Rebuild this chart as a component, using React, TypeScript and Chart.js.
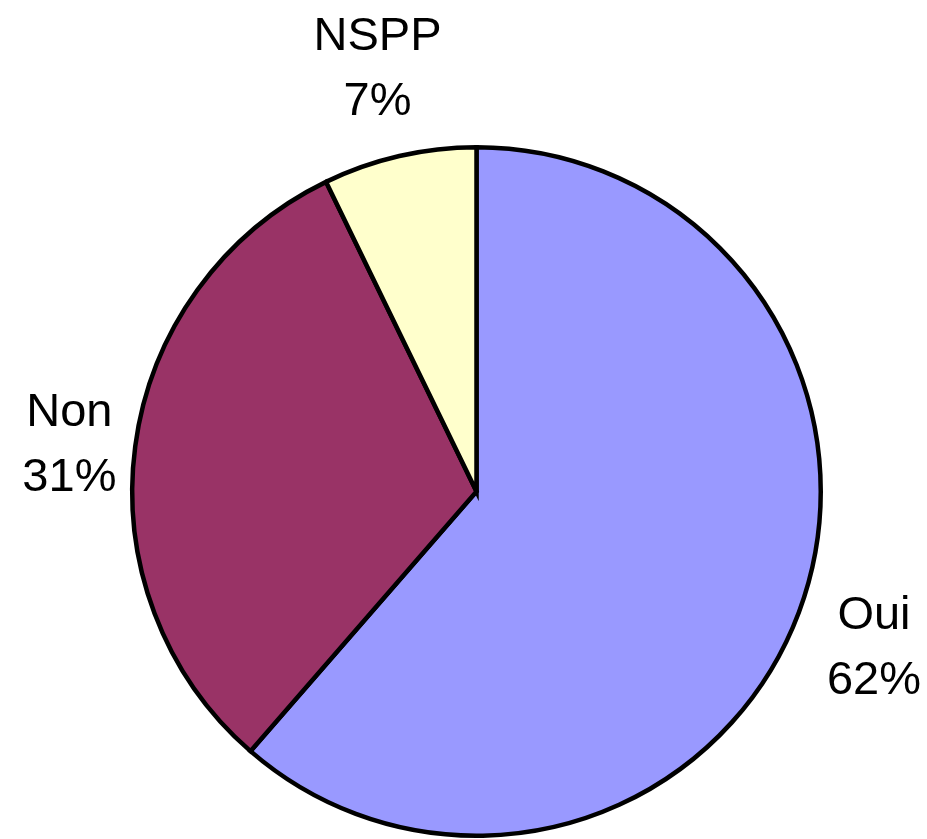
import React, { useEffect, useRef } from "react";
import { Chart, registerables } from "chart.js";

Chart.register(...registerables);

const categories = ["Oui", "Non", "NSPP"];
const shares = [61.4, 31.4, 7.2];
const percentText = ["62%", "31%", "7%"];
const sliceColors = ["#9999FF", "#993366", "#FFFFCC"];

const W = 927;
const H = 839;

const labelPlugin = {
  id: "outerLabels",
  afterDatasetsDraw(chart: any) {
    const ctx = chart.ctx;
    const meta = chart.getDatasetMeta(0);
    const fontSize = 47;
    const lineH = 65;
    const cap = 34;
    const gap = 10;
    const padY = 25;
    ctx.save();
    ctx.font = `${fontSize}px "Liberation Sans", Arial, sans-serif`;
    ctx.fillStyle = "#000000";
    ctx.textAlign = "center";
    ctx.textBaseline = "alphabetic";
    meta.data.forEach((arc: any, i: number) => {
      const p = arc.getProps(["x", "y", "startAngle", "endAngle", "outerRadius"], true);
      const mid = (p.startAngle + p.endAngle) / 2;
      const lines = [categories[i], percentText[i]];
      const w = Math.max(...lines.map((l) => ctx.measureText(l).width));
      const h = lineH + cap;
      const dx = Math.cos(mid);
      const dy = Math.sin(mid);
      const d = p.outerRadius + gap + Math.abs(dx) * w / 2 + Math.abs(dy) * (h / 2 + padY);
      const cx = p.x + dx * d;
      const cy = p.y + dy * d;
      const top = cy - h / 2 + 4;
      lines.forEach((l, k) => {
        ctx.fillText(l, cx, top + cap + k * lineH);
      });
    });
    ctx.restore();
  },
};

export default function App() {
  const ref = useRef<HTMLCanvasElement | null>(null);
  useEffect(() => {
    if (!ref.current) return;
    const chart = new Chart(ref.current, {
      type: "pie",
      data: {
        labels: categories,
        datasets: [
          {
            data: shares,
            backgroundColor: sliceColors,
            borderColor: "#000000",
            borderWidth: 4.5,
            borderJoinStyle: "miter",
          } as any,
        ],
      },
      options: {
        responsive: false,
        animation: false,
        layout: { padding: { left: 130, right: 104, top: 145, bottom: 1 } },
        plugins: {
          legend: { display: false },
          tooltip: { enabled: false },
        },
      },
      plugins: [labelPlugin],
    });
    return () => chart.destroy();
  }, []);
  return (
    <div style={{ position: "absolute", left: 0, top: 0, width: W, height: H, background: "#ffffff" }}>
      <canvas ref={ref} width={W} height={H} style={{ width: W, height: H, display: "block" }} />
    </div>
  );
}
